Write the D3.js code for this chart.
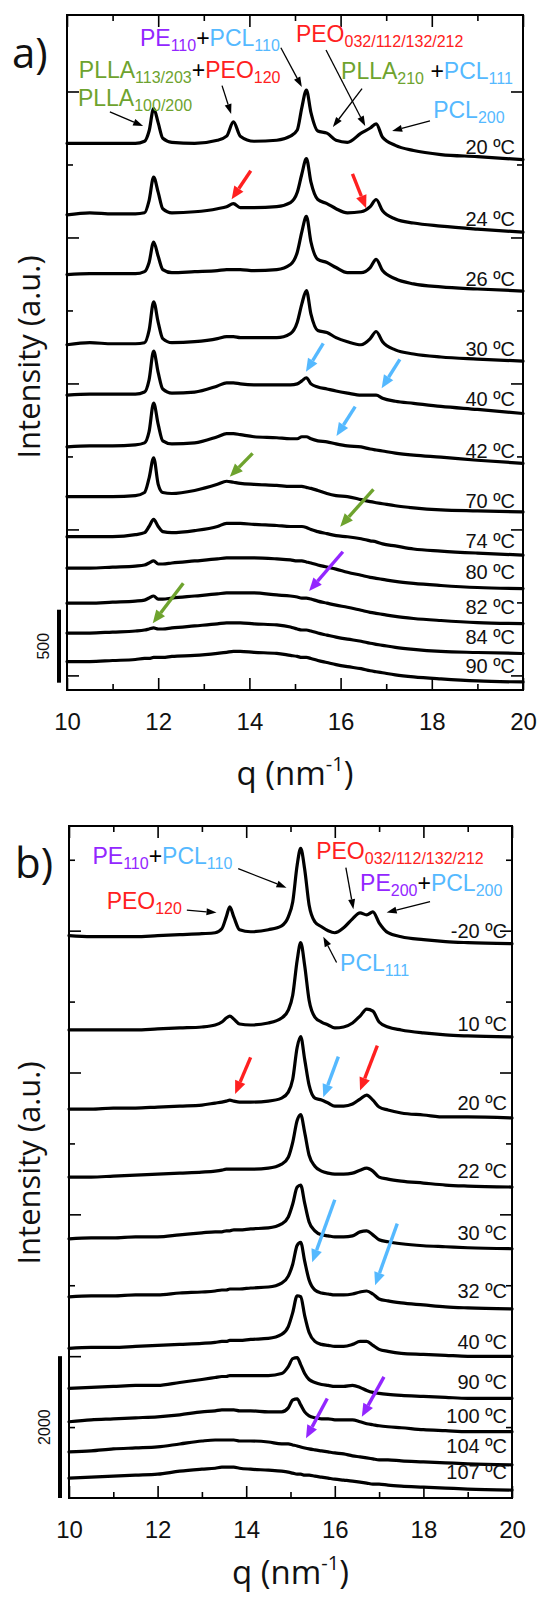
<!DOCTYPE html>
<html lang="en">
<head>
<meta charset="UTF-8">
<title>WAXS patterns on heating</title>
<script src="https://d3js.org/d3.v7.min.js"></script>
<style>
  body { margin: 0; background: #fff; }
  svg { display: block; }
  .frame { fill: none; stroke: #000; stroke-width: 2; }
  .curve { fill: none; stroke: #000; stroke-width: 3.2; stroke-linejoin: round; stroke-linecap: round; }
  .temp { font-family: "Liberation Sans", Arial, sans-serif; font-size: 20px; fill: #111; }
  .ann { font-family: "Liberation Sans", Arial, sans-serif; font-size: 23px; }
  .title { font-family: "Open Sans", sans-serif; fill: #111; }
</style>
</head>
<body>
<svg width="541" height="1602"></svg>
<script>
// ---- panel a: q grid (nm^-1), stack offsets and profiles (counts above offset)
const qA = [10,10.5,11,11.5,11.7,11.8,11.9,12.0,12.1,12.3,12.8,13.3,13.5,13.65,13.8,14.1,14.6,14.9,
            15.05,15.15,15.25,15.35,15.5,15.7,15.9,16.15,16.45,16.65,16.78,16.92,17.2,17.6,18.2,19,20];
const tempsA = ["20 ºC","24 ºC","26 ºC","30 ºC","40 ºC","42 ºC","70 ºC","74 ºC","80 ºC","82 ºC","84 ºC","90 ºC"];
const offsetsA = [3645, 3155, 2745, 2265, 1920, 1565, 1225, 950, 735, 495, 290, 95];
const a20 = [0,0,0,0,14,84,238,140,35,7,0,21,49,147,49,14,21,49,91,245,364,210,84,70,21,7,70,105,133,42,-14,-49,-77,-91,-112];
const a24 = [0,14,7,7,14,98,259,154,42,14,21,42,56,77,49,49,56,84,154,280,385,224,105,77,42,14,21,56,105,28,-28,-56,-77,-98,-119];
const a26 = [0,7,7,7,21,84,224,126,35,14,21,28,35,35,35,28,35,70,154,294,399,224,105,84,49,14,14,49,105,28,-28,-63,-84,-98,-112];
const a30 = [0,14,7,7,14,98,294,154,42,14,21,42,56,56,49,49,49,77,154,280,371,210,98,84,49,21,0,42,91,21,-35,-63,-84,-98,-112];
const a40 = [0,7,7,7,21,105,301,154,42,14,21,63,84,84,77,70,70,70,77,98,119,77,56,42,28,14,0,0,0,-21,-42,-56,-77,-98,-126];
const a42 = [0,7,7,14,28,105,301,154,42,21,28,70,91,91,84,70,63,56,56,70,70,56,42,35,21,7,0,-14,-21,-28,-42,-56,-70,-91,-112];
const a70 = [0,0,0,7,28,126,266,84,28,21,42,84,105,98,91,84,77,70,70,70,63,56,42,21,7,0,-21,-35,-42,-49,-63,-77,-91,-98,-105];
const a74 = [0,0,0,14,28,70,119,70,35,28,42,70,91,91,91,84,77,70,70,70,63,49,35,21,7,0,-14,-28,-35,-49,-63,-84,-98,-112,-126];
const a80 = [0,0,7,14,21,35,49,28,28,35,49,63,70,70,70,70,63,56,49,49,42,35,21,7,-7,-28,-49,-63,-70,-77,-91,-105,-119,-133,-140];
const a82 = [0,0,7,14,21,35,49,28,28,35,49,63,70,70,70,70,56,49,42,35,35,28,14,0,-14,-28,-49,-63,-70,-77,-91,-105,-119,-133,-140];
const a84 = [0,0,7,14,21,28,35,28,28,35,49,63,70,70,70,63,56,42,28,21,21,14,0,-14,-28,-42,-56,-70,-77,-84,-98,-112,-126,-133,-140];
const a90 = [0,0,7,14,21,21,28,28,28,35,42,56,63,70,70,63,56,42,35,28,28,21,7,-7,-21,-35,-49,-63,-70,-77,-91,-105,-119,-133,-140];

// ---- panel b
const qB = [10,10.5,11,11.5,12,12.5,13,13.3,13.45,13.55,13.63,13.72,13.85,14.1,14.5,14.8,14.95,
            15.05,15.15,15.23,15.32,15.42,15.55,15.7,15.85,16.0,16.2,16.4,16.57,16.72,16.86,17.0,17.2,17.5,18,18.5,19,20];
const tempsB = ["-20 ºC","10 ºC","20 ºC","22 ºC","30 ºC","32 ºC","40 ºC","90 ºC","100 ºC","104 ºC","107 ºC"];
const offsetsB = [7915, 6600, 5485, 4525, 3655, 2835, 2110, 1545, 1075, 650, 280];
const bm20 = [14,0,0,0,14,28,42,56,112,280,420,280,98,70,98,154,280,490,1008,1246,952,448,210,140,84,56,126,252,336,308,350,196,56,0,-42,-70,-84,-98];
const b10  = [0,0,0,0,14,28,42,70,112,168,196,154,84,70,98,168,280,490,980,1232,910,420,182,112,70,28,42,98,196,294,266,112,42,0,-42,-70,-84,-98];
const b20  = [0,0,14,14,28,42,56,84,98,112,126,112,98,98,112,154,238,420,868,1022,700,336,154,126,84,42,42,70,140,196,126,28,-14,-56,-84,-112,-112,-126];
const b22  = [0,0,14,28,42,56,70,84,98,112,112,112,112,112,126,182,280,490,798,882,630,308,154,84,56,42,42,56,98,126,84,0,-28,-56,-84,-112,-126,-140];
const b30  = [0,14,14,28,28,56,84,98,98,112,112,126,126,140,154,210,308,490,728,756,504,238,112,56,42,28,28,42,98,112,56,-14,-42,-70,-98,-112,-126,-140];
const b32  = [0,14,14,28,28,56,70,84,98,98,112,112,112,126,140,196,294,462,728,770,504,238,98,56,42,28,28,42,70,84,42,-28,-56,-84,-112,-140,-154,-168];
const b40  = [0,14,14,28,42,56,70,84,98,98,112,112,112,126,140,196,308,504,742,728,462,224,98,56,42,28,28,56,98,98,42,-14,-42,-70,-84,-98,-112,-112];
const b90  = [0,14,28,42,42,84,126,154,168,168,182,182,182,182,182,210,308,420,434,336,210,126,84,56,42,28,28,42,14,-28,-56,-70,-84,-98,-112,-126,-140,-140];
const b100 = [0,28,42,56,70,98,140,154,168,168,168,168,154,154,140,140,196,308,322,238,140,84,56,42,42,28,28,28,0,-28,-42,-56,-70,-84,-112,-126,-140,-140];
const b104 = [0,14,42,56,70,112,154,168,168,168,168,168,154,154,140,112,112,98,84,70,56,42,28,14,0,-14,-28,-56,-70,-84,-98,-112,-112,-126,-140,-154,-168,-182];
const b107 = [0,14,28,42,56,98,126,140,154,154,154,154,140,126,112,98,84,70,56,56,42,42,28,14,0,-14,-28,-42,-56,-70,-84,-84,-98,-112,-126,-140,-154,-168];

const qTicks = [10,12,14,16,18,20];
const qMinor = [11,13,15,17,19];

const colors = {p: "#9326ff", b: "#55b9ff", r: "#ff2020", g: "#6ea32e", k: "#000"};

// peak labels: [q, intensity, parts]; part = [text, colour key, subscript?]
const annotA = [
  [11.60, 4311, [["PE","p"],["110","p",1],["+","k"],["PCL","b"],["110","b",1]]],
  [15.02, 4339, [["PEO","r"],["032/112/132/212","r",1]]],
  [10.26, 4092, [["PLLA","g"],["113/203","g",1],["+","k"],["PEO","r"],["120","r",1]]],
  [16.01, 4085, [["PLLA","g"],["210","g",1],[" +","k"],["PCL","b"],["111","b",1]]],
  [10.24, 3900, [["PLLA","g"],["100/200","g",1]]],
  [18.03, 3818, [["PCL","b"],["200","b",1]]]
];
const annotB = [
  [10.53, 8937, [["PE","p"],["110","p",1],["+","k"],["PCL","b"],["110","b",1]]],
  [10.85, 8303, [["PEO","r"],["120","r",1]]],
  [15.58, 9007, [["PEO","r"],["032/112/132/212","r",1]]],
  [16.57, 8561, [["PE","p"],["200","p",1],["+","k"],["PCL","b"],["200","b",1]]],
  [16.12, 7434, [["PCL","b"],["111","b",1]]]
];
// arrows: [q0, i0, q1, i1, colour key]
const arrowsA = [
  [10.94,3860,11.67,3763,"k"],[13.40,4040,13.60,3846,"k"],[14.69,4300,15.15,4031,"k"],
  [15.68,4284,16.54,3763,"k"],[16.47,4020,15.83,3757,"k"],[17.96,3798,17.13,3729,"k"],
  [14.03,3457,13.61,3261,"r"],[16.26,3435,16.56,3200,"r"],
  [15.62,2275,15.24,2080,"b"],[17.30,2165,16.90,1967,"b"],[16.32,1841,15.91,1640,"b"],
  [14.07,1521,13.57,1361,"g"],[16.72,1275,15.99,1019,"g"],
  [16.05,847,15.31,578,"p"],[12.55,631,11.88,357,"g"]
];
const arrowsB = [
  [13.82,8875,14.91,8607,"k"],[12.66,8289,13.33,8255,"k"],[16.25,8889,16.42,8303,"k"],
  [18.15,8410,17.17,8255,"k"],[16.04,7551,15.74,7913,"k"],
  [14.10,6214,13.75,5698,"r"],[16.08,6223,15.74,5650,"b"],[16.96,6378,16.57,5745,"r"],
  [16.00,4206,15.49,3323,"b"],[17.41,3868,16.91,2999,"b"],
  [17.11,1708,16.61,1145,"p"],[15.83,1404,15.35,841,"p"]
];

const svg = d3.select("svg");

const panels = [
  {tag: "a)", tagX: 12, tagY: 68, q: qA, temps: tempsA, offsets: offsetsA,
   profiles: [a20,a24,a26,a30,a40,a42,a70,a74,a80,a82,a84,a90],
   x0: 67, x1: 523, top: 15, bottom: 690, yDomain: [-100, 4524],
   yMajor: [0,1000,2000,3000,4000], yMinor: [500,1500,2500,3500],
   bar: [-50, 450], barLabel: "500", barX: 59, tempInset: 8, tempDy: 4,
   ylabelY: 357, titleDy: 95, annot: annotA, arrows: arrowsA},
  {tag: "b)", tagX: 15, tagY: 878, q: qB, temps: tempsB, offsets: offsetsB,
   profiles: [bm20,b10,b20,b22,b30,b32,b40,b90,b100,b104,b107],
   x0: 69, x1: 512, top: 826, bottom: 1498, yDomain: [0, 9476],
   yMajor: [2000,4000,6000,8000], yMinor: [1000,3000,5000,7000,9000],
   bar: [0, 2000], barLabel: "2000", barX: 60, tempInset: 5, tempDy: -6,
   ylabelY: 1163, titleDy: 86, annot: annotB, arrows: arrowsB}
];

function arrow(g, x0, y0, x1, y1, col) {
  const thick = col !== "k";
  const L = thick ? 13 : 10, w = thick ? 11 : 7;
  const dx = x1 - x0, dy = y1 - y0, len = Math.hypot(dx, dy);
  const ux = dx / len, uy = dy / len;
  const bx = x1 - ux * L, by = y1 - uy * L;
  g.append("line").attr("x1", x0).attr("y1", y0).attr("x2", bx).attr("y2", by)
    .attr("stroke", colors[col]).attr("stroke-width", thick ? 3.4 : 1.3);
  g.append("polygon")
    .attr("points", [[x1, y1], [bx - uy * w / 2, by + ux * w / 2], [bx + uy * w / 2, by - ux * w / 2]].join(" "))
    .attr("fill", colors[col]);
}

function drawPanel(p) {
  const g = svg.append("g");
  const x = d3.scaleLinear().domain([10, 20]).range([p.x0, p.x1]);
  const y = d3.scaleLinear().domain(p.yDomain).range([p.bottom, p.top]);
  const line = d3.line().x(d => x(d[0])).y(d => y(d[1])).curve(d3.curveMonotoneX);

  const series = p.profiles.map((prof, k) => prof.map((v, j) => [p.q[j], p.offsets[k] + v]));
  g.selectAll("path.curve").data(series).join("path").attr("class", "curve").attr("d", line);

  // ticks, all pointing inward
  const axes = [
    [d3.axisBottom(x), `translate(0,${p.bottom})`, qTicks, qMinor],
    [d3.axisTop(x), `translate(0,${p.top})`, qTicks, qMinor],
    [d3.axisLeft(y), `translate(${p.x0},0)`, p.yMajor, p.yMinor],
    [d3.axisRight(y), `translate(${p.x1},0)`, p.yMajor, p.yMinor]
  ];
  axes.forEach(([ax, tr, major, minor], n) => {
    const gm = g.append("g").attr("transform", tr)
      .call(ax.tickValues(major).tickSize(-12).tickPadding(23).tickFormat(n === 0 ? d3.format("d") : ""));
    gm.select(".domain").remove();
    gm.selectAll("line").attr("stroke-width", 1.6);
    gm.selectAll("text").attr("font-family", "'Liberation Sans', Arial, sans-serif")
      .attr("font-size", 24).attr("fill", "#111");
    const gn = g.append("g").attr("transform", tr)
      .call(ax.tickValues(minor).tickSize(-6).tickFormat(""));
    gn.select(".domain").remove();
    gn.selectAll("line").attr("stroke-width", 1.6);
  });

  g.append("rect").attr("class", "frame")
    .attr("x", p.x0).attr("y", p.top).attr("width", p.x1 - p.x0).attr("height", p.bottom - p.top);

  g.selectAll("text.temp").data(p.temps).join("text").attr("class", "temp")
    .attr("x", p.x1 - p.tempInset).attr("y", (d, k) => y(p.offsets[k]) + p.tempDy)
    .attr("dy", "0.35em").attr("text-anchor", "end").text(d => d);

  // scale bar
  g.append("line").attr("x1", p.barX).attr("x2", p.barX)
    .attr("y1", y(p.bar[0])).attr("y2", y(p.bar[1])).attr("stroke", "#000").attr("stroke-width", 4);
  const my = (y(p.bar[0]) + y(p.bar[1])) / 2;
  g.append("text").attr("transform", `translate(${p.barX - 10},${my}) rotate(-90)`)
    .attr("text-anchor", "middle").attr("font-family", "'Liberation Sans', Arial, sans-serif")
    .attr("font-size", 16).attr("fill", "#111").text(p.barLabel);

  // axis titles
  g.append("text").attr("class", "title").attr("transform", `translate(29,${p.ylabelY}) rotate(-90)`)
    .attr("text-anchor", "middle").attr("dy", "0.35em").attr("font-size", 31).text("Intensity (a.u.)");
  const qt = g.append("text").attr("class", "title").attr("x", (p.x0 + p.x1) / 2).attr("y", p.bottom + p.titleDy)
    .attr("text-anchor", "middle").attr("font-size", 33);
  qt.append("tspan").text("q (nm");
  qt.append("tspan").attr("font-size", 20).attr("dy", -14).text("-1");
  qt.append("tspan").attr("dy", 14).text(")");

  g.append("text").attr("class", "title").attr("x", p.tagX).attr("y", p.tagY)
    .attr("font-size", 42).text(p.tag);

  // peak labels
  p.annot.forEach(([q, i, parts]) => {
    const t = g.append("text").attr("class", "ann").attr("x", x(q)).attr("y", y(i));
    let shifted = false;
    parts.forEach(([s, c, sub]) => {
      const ts = t.append("tspan").attr("fill", colors[c]).text(s);
      if (sub && !shifted) { ts.attr("dy", 5).attr("font-size", 16); shifted = true; }
      else if (sub) ts.attr("font-size", 16);
      else if (shifted) { ts.attr("dy", -5); shifted = false; }
    });
  });

  p.arrows.forEach(([q0, i0, q1, i1, c]) => arrow(g, x(q0), y(i0), x(q1), y(i1), c));
}

panels.forEach(drawPanel);
</script>
</body>
</html>
